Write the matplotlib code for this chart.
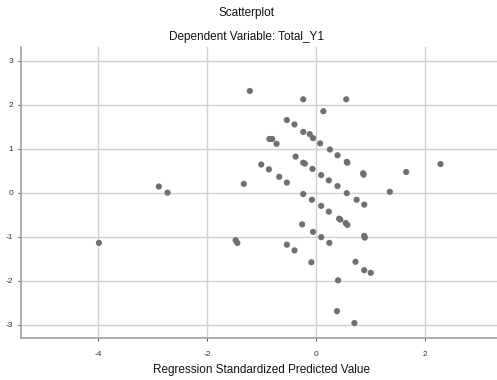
import matplotlib
matplotlib.use("Agg")
import matplotlib.pyplot as plt

plt.rcParams["font.family"] = ["Liberation Sans", "DejaVu Sans"]
plt.rcParams["axes.unicode_minus"] = False

# Regression standardized predicted value (x) and residual (y)
pred = [-3.99, -2.89, -2.73, -1.48, -1.45, -1.33, -1.22, -0.24, 0.55, 0.13,
        -0.54, -0.40, -0.24, -0.12, -0.06, 0.07, 0.25, 0.39, 0.56, 0.57,
        0.86, 0.87, -0.86, -0.81, -0.73, -1.01, -0.87, -0.68, -0.54, -0.38,
        -0.24, -0.21, -0.07, 0.09, 0.23, 0.39, 0.56, -0.24, -0.08, 0.74,
        1.35, 1.65, 2.28, 0.09, 0.23, 0.42, 0.44, 0.54, 0.57, 0.88,
        -0.26, -0.06, 0.09, 0.24, 0.88, 0.89, -0.54, -0.40, -0.09, 0.72,
        0.88, 1.00, 0.40, 0.38, 0.70]
resid = [-1.14, 0.14, 0.00, -1.08, -1.14, 0.20, 2.31, 2.12, 2.12, 1.85,
         1.65, 1.55, 1.38, 1.33, 1.24, 1.12, 0.98, 0.85, 0.70, 0.68,
         0.44, 0.41, 1.22, 1.22, 1.11, 0.64, 0.53, 0.36, 0.23, 0.82,
         0.68, 0.66, 0.54, 0.40, 0.28, 0.15, -0.01, -0.03, -0.16, -0.16,
         0.02, 0.47, 0.65, -0.30, -0.43, -0.59, -0.61, -0.69, -0.73, -0.27,
         -0.72, -0.89, -1.01, -1.14, -0.98, -1.02, -1.18, -1.31, -1.58, -1.57,
         -1.76, -1.82, -1.99, -2.69, -2.96]

x_ticks = [-4, -2, 0, 2]
y_ticks = [-3, -2, -1, 0, 1, 2, 3]

fig = plt.figure(figsize=(4.97, 3.8), dpi=100)
ax = fig.add_axes([0.0423, 0.1105, 0.958, 0.766])

ax.scatter(pred, resid, s=20, color="#707070", edgecolors="none", zorder=3)

ax.set_xlim(-5.42, 3.32)
ax.set_ylim(-3.30, 3.31)
ax.set_xticks(x_ticks)
ax.set_yticks(y_ticks)
ax.grid(True, color="#d0d0d0", linewidth=1.0)
ax.set_axisbelow(True)

for side in ["top", "right"]:
    ax.spines[side].set_visible(False)
for side in ["left", "bottom"]:
    ax.spines[side].set_color("#a0a0a0")
    ax.spines[side].set_linewidth(1.2)

ax.tick_params(axis="both", labelsize=6, colors="#303030", length=2, width=0.6)
ax.tick_params(axis="x", pad=7)

txt = dict(ha="center", va="center", fontsize=8.5, color="#111111")
fig.text(0.495, 0.966, "Scatterplot", **txt)
fig.text(0.495, 0.903, "Dependent Variable: Total_Y1", **txt)
fig.text(0.526, 0.026, "Regression Standardized Predicted Value", **txt)

fig.savefig("out.png", dpi=100)
